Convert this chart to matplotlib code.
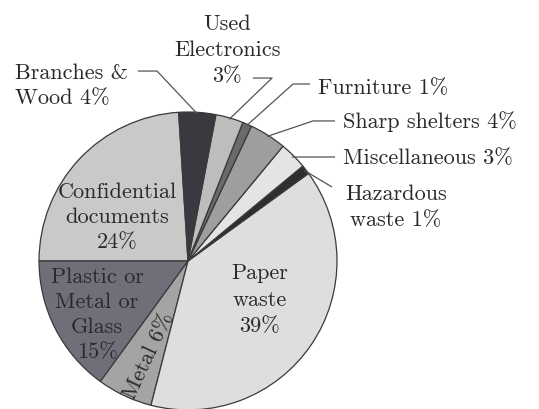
import numpy as np
import matplotlib
matplotlib.use('Agg')
import matplotlib.pyplot as plt

plt.rcParams['font.family'] = ['cmr10', 'DejaVu Serif']
plt.rcParams['axes.formatter.use_mathtext'] = True

# categories counter-clockwise from the top
categories = ['Confidential documents', 'Plastic or Metal or Glass', 'Metal', 'Paper waste',
              'Hazardous waste', 'Miscellaneous', 'Sharp shelters', 'Furniture',
              'Used Electronics', 'Branches & Wood']
shares = [24, 15, 6, 39, 1, 3, 4, 1, 3, 4]
colors = ['#c9c9c9', '#6e6f78', '#a4a4a4', '#dcdfdb', '#2e2e2e',
          '#e3e5e2', '#9e9e9e', '#6a6a6a', '#bdbdbd', '#3b3840']

fig = plt.figure(figsize=(5.39, 4.10), dpi=100)
ax = fig.add_axes([0, 0, 1, 1])
start = 180 - 360 * shares[0] / 100
wedges, _ = ax.pie(shares, colors=colors, startangle=start, counterclock=True, radius=1,
                   wedgeprops=dict(edgecolor='#3a3a3a', linewidth=0.9))
ax.set_xlim(-1.262, 2.356)
ax.set_ylim(-0.993, 1.758)
ax.set_aspect('equal')
ax.axis('off')

fs = 16
tc = '#2a2a2a'

# labels inside the wedges
ax.text(-0.477, 0.302, 'Confidential\ndocuments\n24%', ha='center', va='center',
        fontsize=fs, color=tc, linespacing=1.36)
ax.text(-0.611, -0.356, 'Plastic or\nMetal or\nGlass\n15%', ha='center', va='center',
        fontsize=fs, color=tc, linespacing=1.36)
ax.text(-0.262, -0.63, 'Metal 6%', ha='center', va='center', rotation=64.8,
        fontsize=fs, color=tc)
ax.text(0.483, -0.255, 'Paper\nwaste\n39%', ha='center', va='center',
        fontsize=fs, color=tc, linespacing=1.45)


def mid_point(i, r=1.0):
    w = wedges[i]
    a = np.deg2rad((w.theta1 + w.theta2) / 2)
    return r * np.cos(a), r * np.sin(a)


lc = '#555555'
# (wedge index, elbow, line start near the text)
leaders = [
    (9, (-0.208, 1.275), (-0.336, 1.275)),
    (8, (0.564, 1.228), (0.436, 1.228)),
    (7, (0.705, 1.188), (0.819, 1.188)),
    (6, (0.839, 0.94), (0.987, 0.94)),
    (5, (0.70, 0.698), (0.987, 0.698)),
    (4, None, (0.966, 0.497)),
]
for i, elbow, end in leaders:
    px, py = mid_point(i, 0.99)
    if elbow is None:
        xs, ys = [px, end[0]], [py, end[1]]
    else:
        xs, ys = [px, elbow[0], end[0]], [py, elbow[1], end[1]]
    ax.plot(xs, ys, color=lc, lw=0.9, solid_capstyle='butt')

ax.text(-1.161, 1.181, 'Branches &\nWood 4%', ha='left', va='center',
        fontsize=fs, color=tc, linespacing=1.35)
ax.text(0.262, 1.42, 'Used\nElectronics\n3%', ha='center', va='center',
        fontsize=fs, color=tc, linespacing=1.4)
ax.text(0.872, 1.168, 'Furniture 1%', ha='left', va='center', fontsize=fs, color=tc)
ax.text(1.040, 0.94, 'Sharp shelters 4%', ha='left', va='center', fontsize=fs, color=tc)
ax.text(1.040, 0.698, 'Miscellaneous 3%', ha='left', va='center', fontsize=fs, color=tc)
ax.text(1.396, 0.369, 'Hazardous\nwaste 1%', ha='center', va='center',
        fontsize=fs, color=tc, linespacing=1.4)

fig.savefig('out.png', dpi=100)
